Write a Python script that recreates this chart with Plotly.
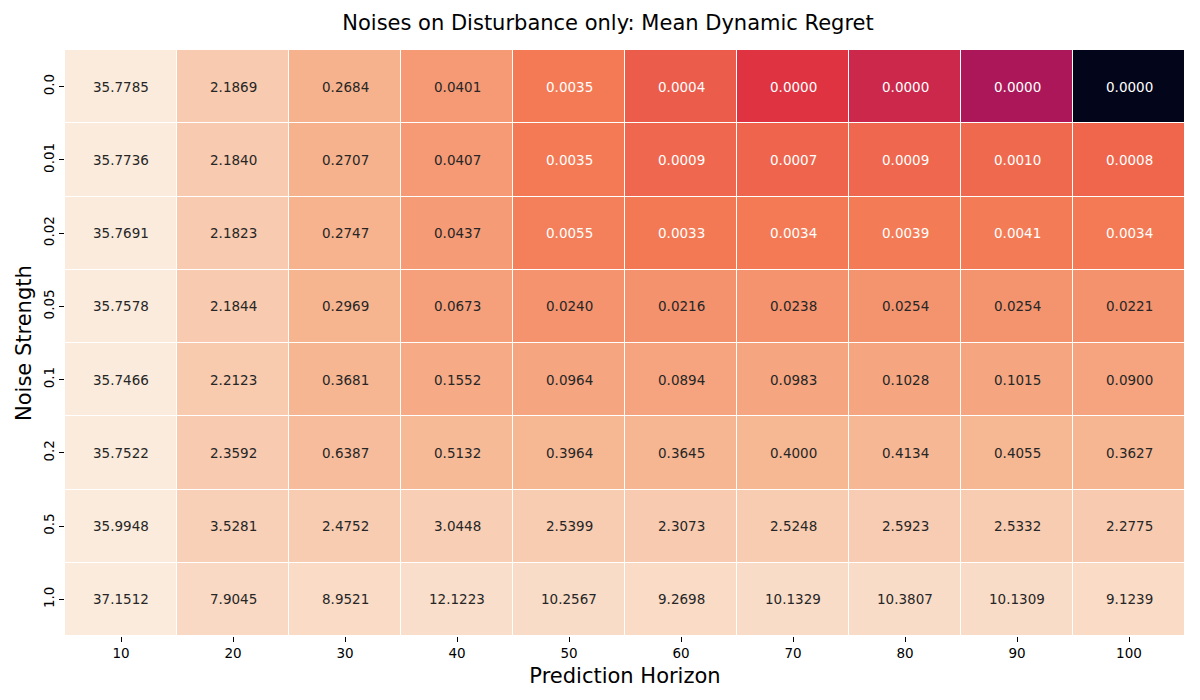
import numpy as np
import plotly.graph_objects as go

# prediction horizons (columns) and noise strengths (rows)
horizons = ["10", "20", "30", "40", "50", "60", "70", "80", "90", "100"]
noise = ["0.0", "0.01", "0.02", "0.05", "0.1", "0.2", "0.5", "1.0"]

# mean dynamic regret per noise level (cells shown as 0.0000 are tiny, estimated)
r_00 = [35.7785, 2.1869, 0.2684, 0.0401, 0.0035, 0.0004, 2e-5, 3e-6, 1.5e-7, 1e-13]
r_001 = [35.7736, 2.1840, 0.2707, 0.0407, 0.0035, 0.0009, 0.0007, 0.0009, 0.0010, 0.0008]
r_002 = [35.7691, 2.1823, 0.2747, 0.0437, 0.0055, 0.0033, 0.0034, 0.0039, 0.0041, 0.0034]
r_005 = [35.7578, 2.1844, 0.2969, 0.0673, 0.0240, 0.0216, 0.0238, 0.0254, 0.0254, 0.0221]
r_01 = [35.7466, 2.2123, 0.3681, 0.1552, 0.0964, 0.0894, 0.0983, 0.1028, 0.1015, 0.0900]
r_02 = [35.7522, 2.3592, 0.6387, 0.5132, 0.3964, 0.3645, 0.4000, 0.4134, 0.4055, 0.3627]
r_05 = [35.9948, 3.5281, 2.4752, 3.0448, 2.5399, 2.3073, 2.5248, 2.5923, 2.5332, 2.2775]
r_10 = [37.1512, 7.9045, 8.9521, 12.1223, 10.2567, 9.2698, 10.1329, 10.3807, 10.1309, 9.1239]

regret = np.array([r_00, r_001, r_002, r_005, r_01, r_02, r_05, r_10])
logz = np.log10(regret)

# seaborn "rocket" anchors (dark -> light), log colour norm
rocket = ["#03051a", "#35193e", "#701f57", "#ad1759", "#e13342", "#f37651", "#f6b48f", "#faebdd"]
pos = np.linspace(0, 1, len(rocket))
colorscale = [[float(p), c] for p, c in zip(pos, rocket)]


def hex2rgb(h):
    return np.array([int(h[i:i + 2], 16) for i in (1, 3, 5)]) / 255.0


anchors = np.array([hex2rgb(c) for c in rocket])
zmin, zmax = logz.min(), logz.max()


def text_colour(v):
    s = (v - zmin) / (zmax - zmin)
    rgb = np.array([np.interp(s, pos, anchors[:, k]) for k in range(3)])
    lin = np.where(rgb <= 0.03928, rgb / 12.92, ((rgb + 0.055) / 1.055) ** 2.4)
    lum = 0.2126 * lin[0] + 0.7152 * lin[1] + 0.0722 * lin[2]
    return "#262626" if lum > 0.408 else "white"


fig = go.Figure(go.Heatmap(
    z=logz, x=horizons, y=noise,
    colorscale=colorscale, zmin=zmin, zmax=zmax,
    showscale=False, xgap=1, ygap=1,
    customdata=regret, hovertemplate="%{x}, %{y}: %{customdata:.4f}<extra></extra>",
))

# cell labels, placed by category index
annotations = []
for i in range(len(noise)):
    for j in range(len(horizons)):
        annotations.append(dict(
            x=j, y=i, text=f"{regret[i, j]:.4f}", showarrow=False,
            font=dict(size=13.5, color=text_colour(logz[i, j])),
        ))

# y axis title as a rotated label left of the tick labels
annotations.append(dict(
    text="Noise Strength", textangle=-90, showarrow=False,
    xref="paper", yref="paper", x=0, y=0.5, xanchor="center", yanchor="middle",
    xshift=-41, font=dict(size=21),
))

fig.update_layout(
    width=1200, height=700,
    margin=dict(l=57, r=23, t=42, b=72),
    font=dict(family="DejaVu Sans", color="black"),
    paper_bgcolor="white", plot_bgcolor="white",
    title=dict(text="Noises on Disturbance only: Mean Dynamic Regret",
               x=0.5, xanchor="center", y=0.979, yanchor="middle",
               font=dict(size=21)),
    annotations=annotations,
    xaxis=dict(type="category", range=[-0.5, len(horizons) - 0.5],
               title=dict(text="Prediction Horizon", font=dict(size=21), standoff=8),
               ticks="outside", ticklen=5, tickcolor="black", tickfont=dict(size=13.5),
               showgrid=False, zeroline=False),
    yaxis=dict(type="category", range=[len(noise) - 0.5, -0.5], tickangle=-90,
               automargin=False,
               ticks="outside", ticklen=5, tickcolor="black", tickfont=dict(size=13.5),
               showgrid=False, zeroline=False),
)

fig.write_html("out.html")
